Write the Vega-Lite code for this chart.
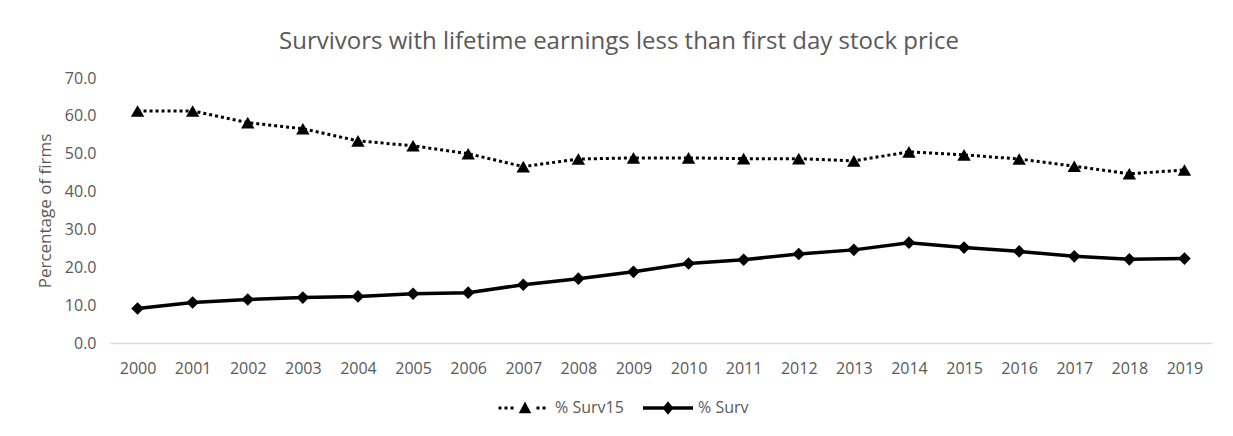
{
  "$schema": "https://vega.github.io/schema/vega-lite/v6.json",
  "autosize": "none",
  "width": 1102,
  "height": 265,
  "padding": {"left": 110, "top": 78, "right": 21, "bottom": 93},
  "background": "white",
  "config": {
    "view": {"stroke": null},
    "font": "Open Sans",
    "axis": {"labelColor": "#595959", "titleColor": "#595959", "labelFont": "Open Sans", "titleFont": "Open Sans"}
  },
  "title": {
    "text": "Survivors with lifetime earnings less than first day stock price",
    "anchor": "middle",
    "frame": "group",
    "dx": -42,
    "offset": 16,
    "fontSize": 24,
    "fontWeight": "normal",
    "color": "#595959",
    "font": "Open Sans"
  },
  "data": {
    "values": [
      {"year": "2000", "series": "% Surv15", "value": 61.3},
      {"year": "2001", "series": "% Surv15", "value": 61.3},
      {"year": "2002", "series": "% Surv15", "value": 58.2},
      {"year": "2003", "series": "% Surv15", "value": 56.6},
      {"year": "2004", "series": "% Surv15", "value": 53.4},
      {"year": "2005", "series": "% Surv15", "value": 52.1},
      {"year": "2006", "series": "% Surv15", "value": 50.0},
      {"year": "2007", "series": "% Surv15", "value": 46.6},
      {"year": "2008", "series": "% Surv15", "value": 48.6},
      {"year": "2009", "series": "% Surv15", "value": 48.9},
      {"year": "2010", "series": "% Surv15", "value": 48.9},
      {"year": "2011", "series": "% Surv15", "value": 48.7},
      {"year": "2012", "series": "% Surv15", "value": 48.7},
      {"year": "2013", "series": "% Surv15", "value": 48.1},
      {"year": "2014", "series": "% Surv15", "value": 50.5},
      {"year": "2015", "series": "% Surv15", "value": 49.7},
      {"year": "2016", "series": "% Surv15", "value": 48.6},
      {"year": "2017", "series": "% Surv15", "value": 46.7},
      {"year": "2018", "series": "% Surv15", "value": 44.7},
      {"year": "2019", "series": "% Surv15", "value": 45.7},
      {"year": "2000", "series": "% Surv", "value": 9.1},
      {"year": "2001", "series": "% Surv", "value": 10.7},
      {"year": "2002", "series": "% Surv", "value": 11.5},
      {"year": "2003", "series": "% Surv", "value": 12.0},
      {"year": "2004", "series": "% Surv", "value": 12.3},
      {"year": "2005", "series": "% Surv", "value": 13.0},
      {"year": "2006", "series": "% Surv", "value": 13.3},
      {"year": "2007", "series": "% Surv", "value": 15.4},
      {"year": "2008", "series": "% Surv", "value": 17.0},
      {"year": "2009", "series": "% Surv", "value": 18.8},
      {"year": "2010", "series": "% Surv", "value": 21.0},
      {"year": "2011", "series": "% Surv", "value": 22.0},
      {"year": "2012", "series": "% Surv", "value": 23.5},
      {"year": "2013", "series": "% Surv", "value": 24.6},
      {"year": "2014", "series": "% Surv", "value": 26.5},
      {"year": "2015", "series": "% Surv", "value": 25.2},
      {"year": "2016", "series": "% Surv", "value": 24.2},
      {"year": "2017", "series": "% Surv", "value": 22.9},
      {"year": "2018", "series": "% Surv", "value": 22.1},
      {"year": "2019", "series": "% Surv", "value": 22.3}
    ]
  },
  "encoding": {
    "x": {
      "field": "year", "type": "ordinal", "title": null,
      "scale": {"type": "point", "padding": 0.5},
      "axis": {"labelAngle": 0, "ticks": false, "domainColor": "#d9d9d9", "domainWidth": 1.3, "labelFontSize": 16, "labelPadding": 17, "grid": false}
    },
    "y": {
      "field": "value", "type": "quantitative", "title": "Percentage of firms",
      "scale": {"domain": [0, 70], "nice": false},
      "axis": {"values": [0, 10, 20, 30, 40, 50, 60, 70], "format": ".1f", "domain": false, "ticks": false, "grid": false, "labelFontSize": 16, "labelPadding": 14, "titleFontSize": 17, "titleFontWeight": "normal", "titlePadding": 10}
    }
  },
  "layer": [
    {
      "transform": [{"filter": "datum.series === '% Surv15'"}],
      "mark": {"type": "line", "color": "black", "strokeWidth": 3, "strokeDash": [3, 3]}
    },
    {
      "transform": [{"filter": "datum.series === '% Surv15'"}],
      "mark": {"type": "point", "shape": "triangle-up", "filled": true, "color": "black", "opacity": 1, "size": 180}
    },
    {
      "transform": [{"filter": "datum.series === '% Surv'"}],
      "mark": {"type": "line", "color": "black", "strokeWidth": 3.5}
    },
    {
      "transform": [{"filter": "datum.series === '% Surv'"}],
      "mark": {"type": "point", "shape": "diamond", "filled": true, "color": "black", "opacity": 1, "size": 160}
    },
    {
      "mark": {"type": "point", "filled": true, "color": "black", "opacity": 0},
      "encoding": {
        "shape": {
          "field": "series", "type": "nominal",
          "scale": {"domain": ["% Surv15", "% Surv"], "range": [
            "M-5.3,-0.3H-4.7V0.3H-5.3Z M-4.1,-0.3H-3.5V0.3H-4.1Z M-2.9,-0.3H-2.3V0.3H-2.9Z M2.3,-0.3H2.9V0.3H2.3Z M3.5,-0.3H4.1V0.3H3.5Z M-1.25,1.05L0,-1.3L1.25,1.05Z",
            "M-5,-0.35H5V0.35H-5Z M0,-1.35L1.1,0L0,1.35L-1.1,0Z"
          ]},
          "legend": {
            "orient": "none", "legendX": 407, "legendY": 322, "direction": "horizontal",
            "title": null, "symbolOpacity": 1, "symbolSize": 100, "symbolStrokeWidth": 0,
            "symbolFillColor": "black", "symbolStrokeColor": "black",
            "labelOffset": 22, "columnPadding": 19,
            "labelFontSize": 16, "labelColor": "#595959", "labelFont": "Open Sans",
            "encode": {"symbols": {"fill": {"value": "black"}, "opacity": {"value": 1}, "fillOpacity": {"value": 1}}}
          }
        }
      }
    }
  ]
}
